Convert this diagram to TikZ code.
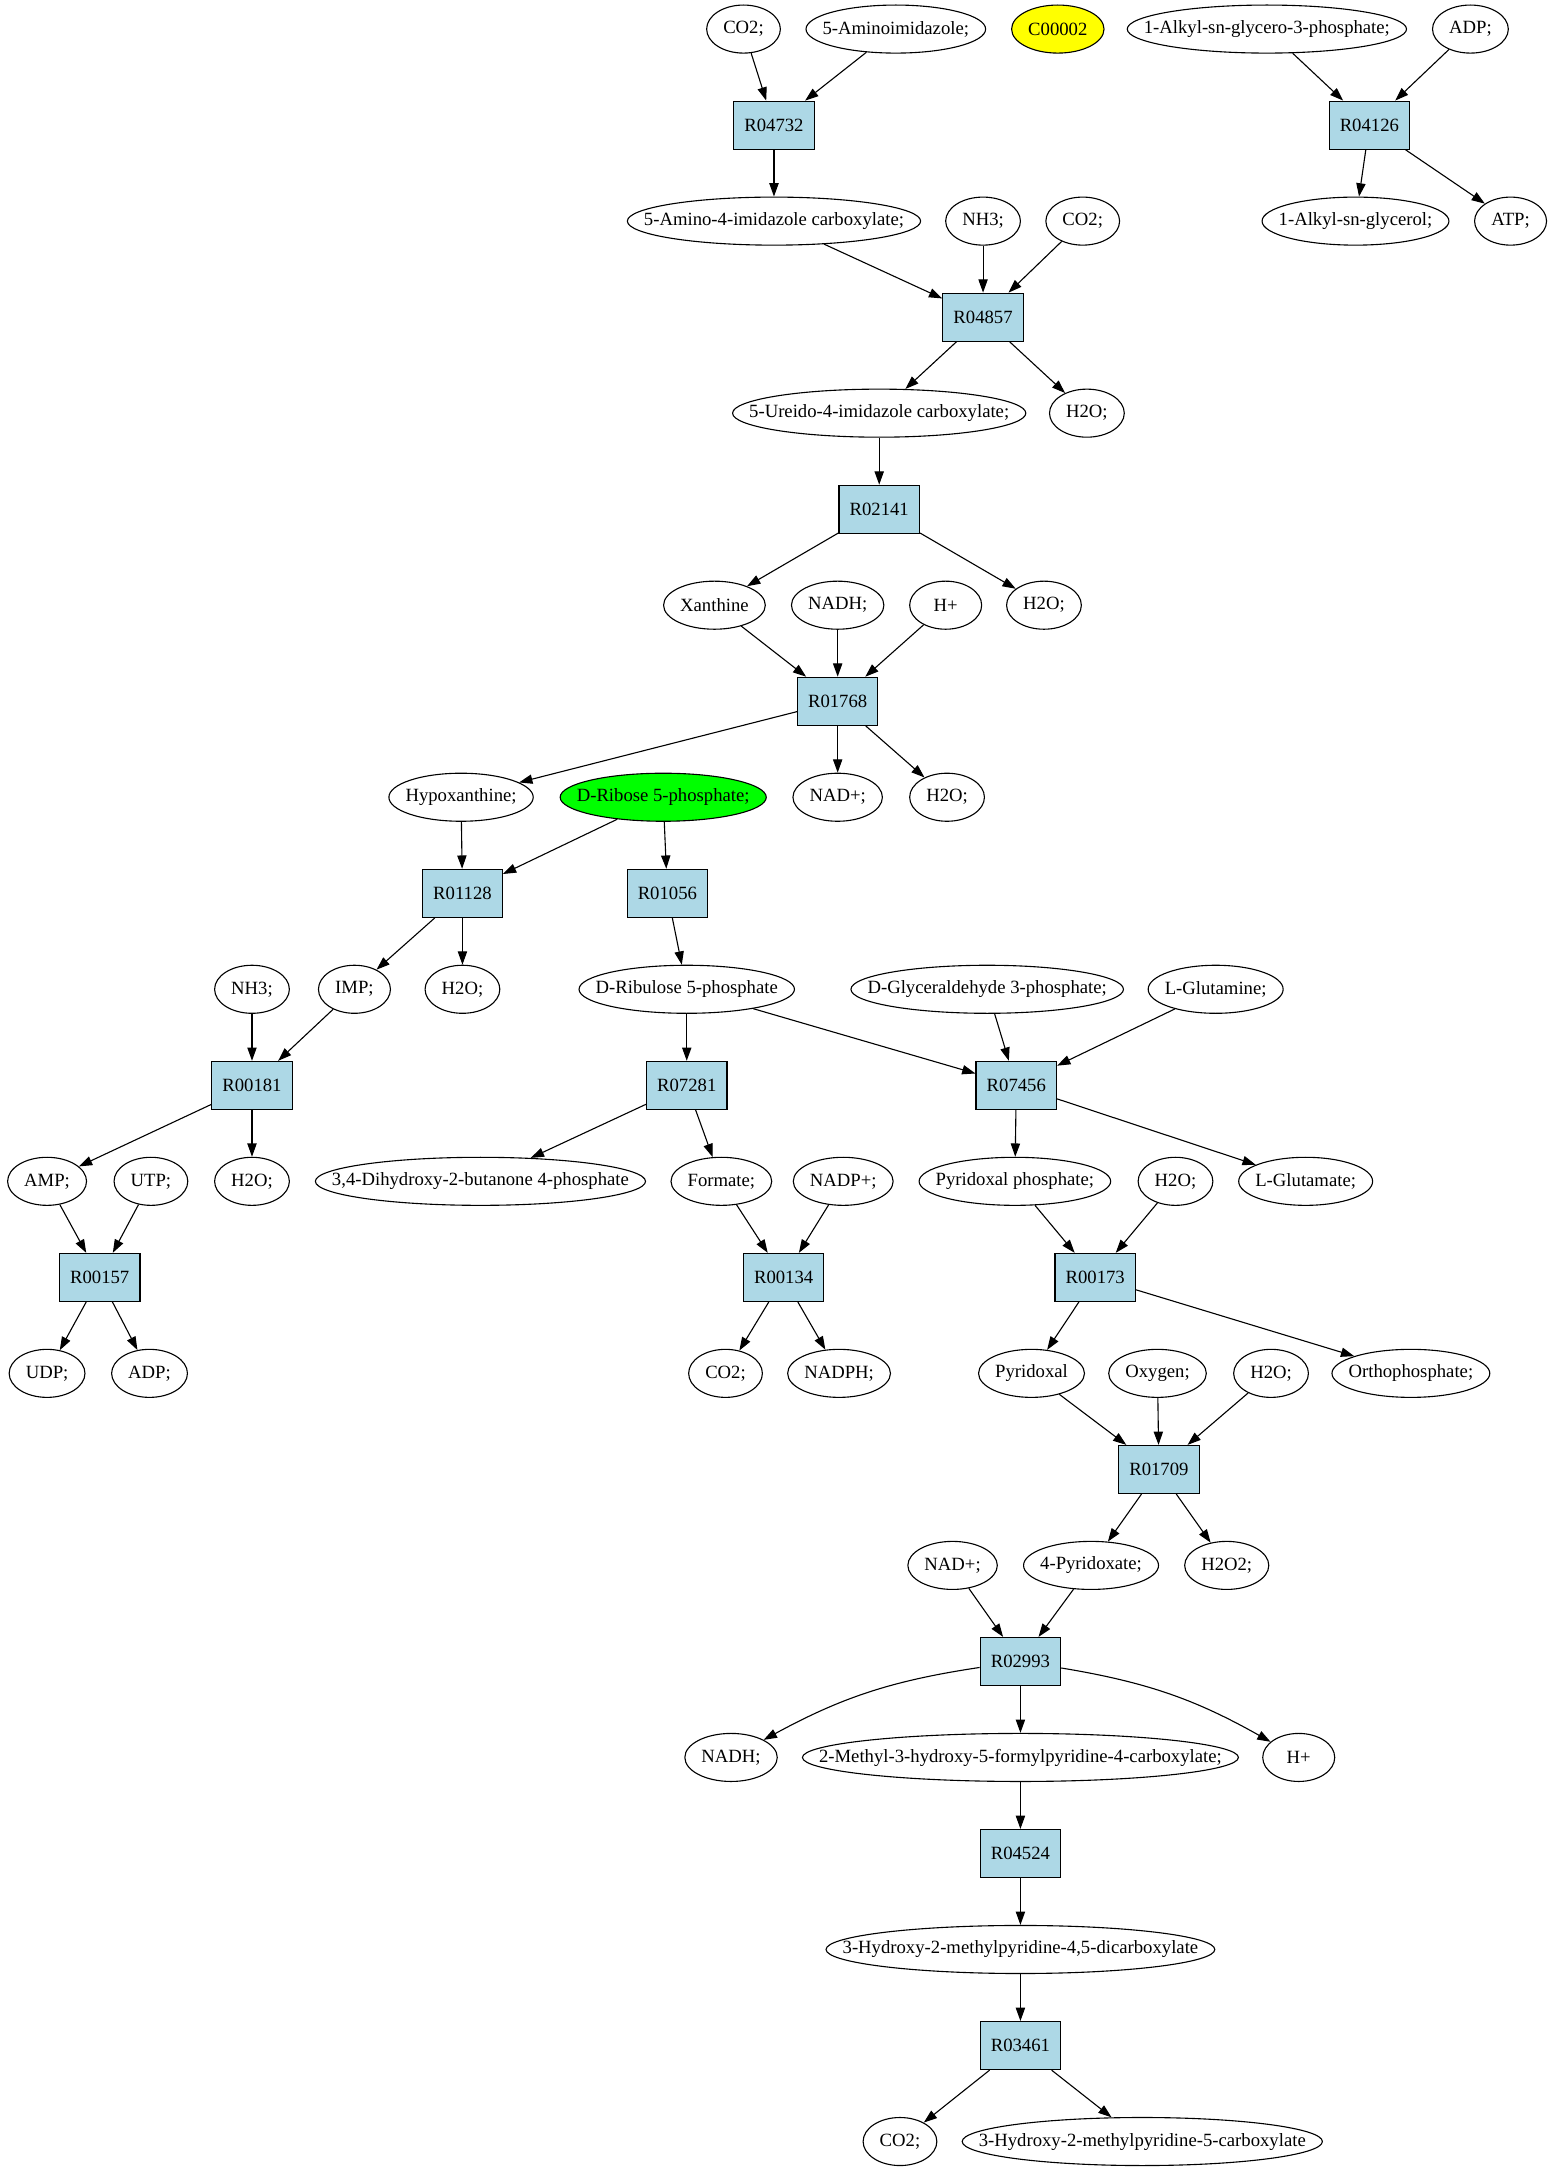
\documentclass[tikz,border=0pt]{standalone}
\usepackage{fontspec}
\setmainfont{Liberation Serif}
\usetikzlibrary{arrows.meta,shapes.geometric}
\definecolor{rxnblue}{HTML}{ADD8E6}
\definecolor{cyellow}{HTML}{FFFF00}
\definecolor{cgreen}{HTML}{00FF00}
\newdimen\gvlen
\newbox\gvbox
\newcommand\gvfont{\fontsize{13.5pt}{16pt}\selectfont}
\newcommand\gvell[4][]{%
  \setbox\gvbox=\hbox{\pgfinterruptpicture\gvfont #4\endpgfinterruptpicture}%
  \gvlen=\wd\gvbox
  \advance\gvlen by 24pt
  \ifdim\gvlen<52pt \gvlen=52pt\fi
  \edef\gvwd{\the\gvlen}%
  \node[ell,minimum width=\gvwd,#1] (#2) at (#3) {\makebox[0pt]{#4}};}
\newcommand\gvrxn[3]{\node[rxn] (#1) at (#2) {#3};}
\begin{document}
\begin{tikzpicture}[x=1pt,y=-1pt,
  ell/.style={draw,ellipse,inner sep=0pt,minimum height=34.7pt,font=\gvfont,line width=0.8pt},
  rxn/.style={draw,rectangle,fill=rxnblue,inner xsep=7.7pt,inner ysep=0pt,minimum width=52pt,minimum height=34.7pt,font=\gvfont,line width=0.8pt},
  conn/.style={draw,line width=0.8pt,-{Triangle[length=9.6pt,width=6.7pt]}}]
\useasboundingbox (0,0) rectangle (1123,1568);
% rank 0
\gvell{co2a}{537,21}{CO2;}
\gvell{aminoimid}{647,21}{5-Aminoimidazole;}
\gvell[fill=cyellow]{c00002}{764,21}{C00002}
\gvell{alkylgp}{915,21}{1-Alkyl-sn-glycero-3-phosphate;}
\gvell{adpa}{1062,21}{ADP;}
% rank 1
\gvrxn{R04732}{559,90.4}{R04732}
\gvrxn{R04126}{989,90.4}{R04126}
% rank 2
\gvell{aicarb}{559,159.7}{5-Amino-4-imidazole carboxylate;}
\gvell{nh3a}{710,159.7}{NH3;}
\gvell{co2b}{782,159.7}{CO2;}
\gvell{alkylg}{979,159.7}{1-Alkyl-sn-glycerol;}
\gvell{atp}{1091,159.7}{ATP;}
% rank 3
\gvrxn{R04857}{710,229.1}{R04857}
% rank 4
\gvell{uicarb}{635,298.4}{5-Ureido-4-imidazole carboxylate;}
\gvell{h2oa}{785,298.4}{H2O;}
% rank 5
\gvrxn{R02141}{635,367.8}{R02141}
% rank 6
\gvell{xanth}{516,437.1}{Xanthine}
\gvell{nadha}{605,437.1}{NADH;}
\gvell{hpa}{683,437.1}{H+}
\gvell{h2ob}{754,437.1}{H2O;}
% rank 7
\gvrxn{R01768}{605,506.5}{R01768}
% rank 8
\gvell{hypox}{333,575.8}{Hypoxanthine;}
\gvell[fill=cgreen]{ribose}{479,575.8}{D-Ribose 5-phosphate;}
\gvell{nadpa}{605,575.8}{NAD+;}
\gvell{h2oc}{684,575.8}{H2O;}
% rank 9
\gvrxn{R01128}{334,645.2}{R01128}
\gvrxn{R01056}{482,645.2}{R01056}
% rank 10
\gvell{nh3b}{182,714.5}{NH3;}
\gvell{imp}{256,714.5}{IMP;}
\gvell{h2od}{334,714.5}{H2O;}
\gvell{ribul}{496,714.5}{D-Ribulose 5-phosphate}
\gvell{glyc}{713,714.5}{D-Glyceraldehyde 3-phosphate;}
\gvell{gln}{878,714.5}{L-Glutamine;}
% rank 11
\gvrxn{R00181}{182,783.9}{R00181}
\gvrxn{R07281}{496,783.9}{R07281}
\gvrxn{R07456}{734,783.9}{R07456}
% rank 12
\gvell{amp}{34,853.2}{AMP;}
\gvell{utp}{109,853.2}{UTP;}
\gvell{h2oe}{182,853.2}{H2O;}
\gvell{dhb}{347,853.2}{3,4-Dihydroxy-2-butanone 4-phosphate}
\gvell{form}{521,853.2}{Formate;}
\gvell{nadpp}{609,853.2}{NADP+;}
\gvell{plp}{733,853.2}{Pyridoxal phosphate;}
\gvell{h2of}{849,853.2}{H2O;}
\gvell{glu}{943,853.2}{L-Glutamate;}
% rank 13
\gvrxn{R00157}{72,922.6}{R00157}
\gvrxn{R00134}{566,922.6}{R00134}
\gvrxn{R00173}{791,922.6}{R00173}
% rank 14
\gvell{udp}{34,991.9}{UDP;}
\gvell{adpb}{108,991.9}{ADP;}
\gvell{co2c}{524,991.9}{CO2;}
\gvell{nadph}{606,991.9}{NADPH;}
\gvell{pyal}{745,991.9}{Pyridoxal}
\gvell{oxy}{836,991.9}{Oxygen;}
\gvell{h2og}{918,991.9}{H2O;}
\gvell{pi}{1019,991.9}{Orthophosphate;}
% rank 15
\gvrxn{R01709}{837,1061.3}{R01709}
% rank 16
\gvell{nadpb}{688,1130.6}{NAD+;}
\gvell{pyate}{788,1130.6}{4-Pyridoxate;}
\gvell{hhoo}{886,1130.6}{H2O2;}
% rank 17
\gvrxn{R02993}{737,1200}{R02993}
% rank 18
\gvell{nadhb}{528,1269.3}{NADH;}
\gvell{mhf}{737,1269.3}{2-Methyl-3-hydroxy-5-formylpyridine-4-carboxylate;}
\gvell{hpb}{938,1269.3}{H+}
% rank 19
\gvrxn{R04524}{737,1338.7}{R04524}
% rank 20
\gvell{hmd}{737,1408}{3-Hydroxy-2-methylpyridine-4,5-dicarboxylate}
% rank 21
\gvrxn{R03461}{737,1477.4}{R03461}
% rank 22
\gvell{co2d}{650,1546.7}{CO2;}
\gvell{hmc}{825,1546.7}{3-Hydroxy-2-methylpyridine-5-carboxylate}
% edges
\draw[conn] (co2a) -- (R04732);
\draw[conn] (aminoimid) -- (R04732);
\draw[conn] (R04732) -- (aicarb);
\draw[conn] (alkylgp) -- (R04126);
\draw[conn] (adpa) -- (R04126);
\draw[conn] (R04126) -- (alkylg);
\draw[conn] (R04126) -- (atp);
\draw[conn] (aicarb) -- (R04857);
\draw[conn] (nh3a) -- (R04857);
\draw[conn] (co2b) -- (R04857);
\draw[conn] (R04857) -- (uicarb);
\draw[conn] (R04857) -- (h2oa);
\draw[conn] (uicarb) -- (R02141);
\draw[conn] (R02141) -- (xanth);
\draw[conn] (R02141) -- (h2ob);
\draw[conn] (xanth) -- (R01768);
\draw[conn] (nadha) -- (R01768);
\draw[conn] (hpa) -- (R01768);
\draw[conn] (R01768) -- (hypox);
\draw[conn] (R01768) -- (nadpa);
\draw[conn] (R01768) -- (h2oc);
\draw[conn] (hypox) -- (R01128);
\draw[conn] (ribose) -- (R01128);
\draw[conn] (ribose) -- (R01056);
\draw[conn] (R01128) -- (imp);
\draw[conn] (R01128) -- (h2od);
\draw[conn] (R01056) -- (ribul);
\draw[conn] (nh3b) -- (R00181);
\draw[conn] (imp) -- (R00181);
\draw[conn] (R00181) -- (amp);
\draw[conn] (R00181) -- (h2oe);
\draw[conn] (ribul) -- (R07281);
\draw[conn] (ribul) -- (R07456);
\draw[conn] (glyc) -- (R07456);
\draw[conn] (gln) -- (R07456);
\draw[conn] (R07281) -- (dhb);
\draw[conn] (R07281) -- (form);
\draw[conn] (R07456) -- (plp);
\draw[conn] (R07456) -- (glu);
\draw[conn] (amp) -- (R00157);
\draw[conn] (utp) -- (R00157);
\draw[conn] (R00157) -- (udp);
\draw[conn] (R00157) -- (adpb);
\draw[conn] (form) -- (R00134);
\draw[conn] (nadpp) -- (R00134);
\draw[conn] (R00134) -- (co2c);
\draw[conn] (R00134) -- (nadph);
\draw[conn] (plp) -- (R00173);
\draw[conn] (h2of) -- (R00173);
\draw[conn] (R00173) -- (pyal);
\draw[conn] (R00173) -- (pi);
\draw[conn] (pyal) -- (R01709);
\draw[conn] (oxy) -- (R01709);
\draw[conn] (h2og) -- (R01709);
\draw[conn] (R01709) -- (pyate);
\draw[conn] (R01709) -- (hhoo);
\draw[conn] (nadpb) -- (R02993);
\draw[conn] (pyate) -- (R02993);
\draw[conn] (R02993) to[bend right=10] (nadhb);
\draw[conn] (R02993) -- (mhf);
\draw[conn] (R02993) to[bend left=10] (hpb);
\draw[conn] (mhf) -- (R04524);
\draw[conn] (R04524) -- (hmd);
\draw[conn] (hmd) -- (R03461);
\draw[conn] (R03461) -- (co2d);
\draw[conn] (R03461) -- (hmc);
\end{tikzpicture}
\end{document}
